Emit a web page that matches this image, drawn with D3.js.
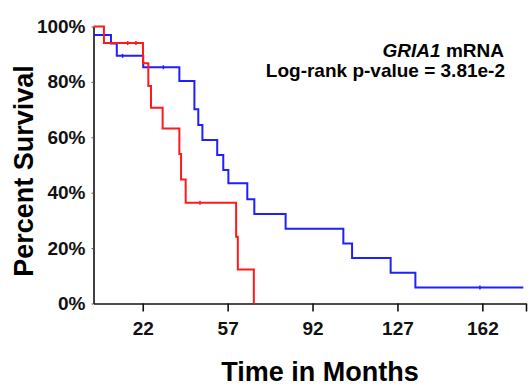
<!DOCTYPE html>
<html>
<head>
<meta charset="utf-8">
<script src="https://cdn.jsdelivr.net/npm/d3@7"></script>
<style>
  body { margin: 0; background: #fff; }
  svg text { font-family: "Liberation Sans", Arial, sans-serif; font-weight: bold; }
</style>
</head>
<body>
<div id="chart"></div>
<script>
// Kaplan-Meier survival, GRIA1 mRNA high / low

// step curves: event times (months) and survival (%) after each step
const redTimes = [1.7, 6.0, 22.1, 24.3, 25.4, 30.2, 37.1, 37.8, 39.7, 60.5, 61.2, 67.8];
const redSurv  = [100, 94.0, 86.7, 78.5, 70.7, 63.2, 54.0, 44.8, 36.4, 24.1, 12.3, 0];
const blueTimes = [1.7, 8.9, 11.3, 22.2, 37.1, 43.3, 44.9, 46.6, 52.7, 55.2, 57.3, 65.1, 68.0, 80.9, 104.7, 108.3, 124.2, 134.4, 178.9];
const blueSurv  = [96.9, 93.9, 89.4, 85.3, 80.3, 70.1, 64.4, 59.0, 53.6, 48.2, 43.4, 37.6, 32.3, 27.0, 21.7, 16.4, 11.1, 5.8, 5.8];

// censored observations
const redCensor = [15.8, 19.2, 45.6];
const blueCensor = [13.7, 30.5, 161.0];

const xTicks = [22, 57, 92, 127, 162];
const yTicks = [0, 20, 40, 60, 80, 100];

const width = 530, height = 386;
const margin = { top: 26.5, right: 4, bottom: 82.5, left: 93.5 };

const svg = d3.select("#chart").append("svg")
  .attr("width", width)
  .attr("height", height);

const x = d3.scaleLinear().domain([1.7, 180]).range([margin.left, width - margin.right]);
const y = d3.scaleLinear().domain([0, 100]).range([height - margin.bottom, margin.top]);

// axes
const xAxis = svg.append("g")
  .attr("transform", `translate(0,${y(0)})`)
  .call(d3.axisBottom(x).tickValues(xTicks.concat([180])).tickSize(8).tickSizeOuter(0)
    .tickFormat((d) => (xTicks.includes(d) ? d : "")));
xAxis.select(".domain").attr("stroke", "#111").attr("stroke-width", 1.6);
xAxis.selectAll(".tick line").attr("stroke", "#111").attr("stroke-width", 1.6);
xAxis.selectAll(".tick text")
  .attr("font-size", 19)
  .attr("fill", "#111")
  .attr("dy", null)
  .attr("y", 31);

const yAxis = svg.append("g")
  .attr("transform", `translate(${x(1.7)},0)`)
  .call(d3.axisLeft(y).tickValues(yTicks).tickSize(2).tickSizeOuter(0)
    .tickFormat((d) => d + "%"));
yAxis.select(".domain").attr("stroke", "#111").attr("stroke-width", 1.6);
yAxis.selectAll(".tick line").attr("stroke", "#555");
yAxis.selectAll(".tick text")
  .attr("font-size", 19)
  .attr("fill", "#111")
  .attr("x", -8);

// axis titles
svg.append("text")
  .attr("x", 320)
  .attr("y", 381)
  .attr("text-anchor", "middle")
  .attr("font-size", 27)
  .attr("fill", "#000")
  .text("Time in Months");

svg.append("text")
  .attr("transform", "translate(33,171) rotate(-90)")
  .attr("text-anchor", "middle")
  .attr("font-size", 27)
  .attr("fill", "#000")
  .text("Percent Survival");

// survival curves
const line = d3.line()
  .x((d) => x(d[0]))
  .y((d) => y(d[1]))
  .curve(d3.curveStepAfter);

function drawCurve(times, surv, censor, color) {
  const pts = d3.zip(times, surv);
  svg.append("path")
    .datum(pts)
    .attr("fill", "none")
    .attr("stroke", color)
    .attr("stroke-width", 2)
    .attr("d", line);

  // survival at time t for the censor ticks
  const bisect = d3.bisector((d) => d).right;
  svg.append("g")
    .selectAll("line")
    .data(censor)
    .join("line")
    .attr("x1", (d) => x(d))
    .attr("x2", (d) => x(d))
    .attr("y1", (d) => y(surv[bisect(times, d) - 1]) - 2)
    .attr("y2", (d) => y(surv[bisect(times, d) - 1]) + 2)
    .attr("stroke", color)
    .attr("stroke-width", 1.5);
}

drawCurve(blueTimes, blueSurv, blueCensor, "#1f1fff");
drawCurve(redTimes, redSurv, redCensor, "#ff1a1a");

// annotation
const note = svg.append("text")
  .attr("x", 504)
  .attr("y", 57)
  .attr("text-anchor", "end")
  .attr("font-size", 19)
  .attr("fill", "#000");
note.append("tspan").attr("font-style", "italic").text("GRIA1");
note.append("tspan").text(" mRNA");

svg.append("text")
  .attr("x", 505)
  .attr("y", 77)
  .attr("text-anchor", "end")
  .attr("font-size", 19)
  .attr("fill", "#000")
  .text("Log-rank p-value = 3.81e-2");
</script>
</body>
</html>
